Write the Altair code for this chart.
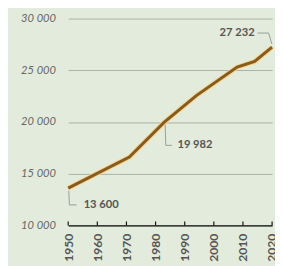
import altair as alt
import pandas as pd

# main series
years = [1950, 1971, 1983, 1994, 2008, 2014, 2020]
values = [13600, 16600, 19982, 22550, 25300, 25850, 27232]

# annotations
label_text = ["13 600", "19 982", "27 232"]
label_x = [1955.3, 1987.5, 2014.0]
label_y = [11980, 17740, 28600]
label_align = ["left", "left", "right"]

leader_id = ["a", "a", "a", "b", "b", "b", "c", "c", "c"]
leader_order = [0, 1, 2, 0, 1, 2, 0, 1, 2]
leader_x = [1950.2, 1950.4, 1952.9, 1983.3, 1983.5, 1985.6, 2015.0, 2018.8, 2019.9]
leader_y = [13350, 11980, 11980, 19750, 17740, 17740, 28600, 28600, 27550]

tick_years = [1950, 1960, 1970, 1980, 1990, 2000, 2010, 2020]
y_ticks = [10000, 15000, 20000, 25000, 30000]

FONT = "Lato"

df = pd.DataFrame({"year": years, "value": values})
lab = pd.DataFrame({"x": label_x, "y": label_y, "t": label_text, "al": label_align})
lead = pd.DataFrame({"id": leader_id, "o": leader_order, "x": leader_x, "y": leader_y})
ticks = pd.DataFrame({"year": tick_years, "y0": [10000] * len(tick_years), "y1": [10380] * len(tick_years)})

xs = alt.Scale(domain=[1950, 2020], nice=False, zero=False)
ys = alt.Scale(domain=[10000, 30000], nice=False, zero=False)

xaxis = alt.Axis(values=tick_years, format="d", labelAngle=270, labelFontWeight="bold",
                 labelColor="#555555", labelFontSize=12.5, labelFont=FONT, ticks=False,
                 labelOverlap=False, labelBound=False, labelFlush=False,
                 domainColor="#111111", domainWidth=1.5, grid=False, title=None, labelPadding=8)
yaxis = alt.Axis(values=y_ticks, labelExpr="replace(format(datum.value, ','), ',', ' ')",
                 labelFontStyle="italic", labelColor="#666666", labelFontSize=11.5, labelFont=FONT,
                 labelOverlap=False, labelFlush=False,
                 domain=False, ticks=False, grid=True, gridColor="#a9b1a5", gridWidth=1,
                 labelPadding=13, title=None)


def X(field):
    return alt.X(field, type="quantitative", scale=xs, axis=xaxis)


def Y(field):
    return alt.Y(field, type="quantitative", scale=ys, axis=yaxis)


tick_layer = alt.Chart(ticks).mark_rule(color="#111111", strokeWidth=1.2).encode(
    x=X("year"), y=Y("y0"), y2="y1:Q",
)

base_line = alt.Chart(df).encode(x=X("year"), y=Y("value"))
halo = base_line.mark_line(color="#f2d48e", strokeWidth=5)
core = base_line.mark_line(color="#8a5a1b", strokeWidth=3)

leaders = alt.Chart(lead).mark_line(color="#9a9a9a", strokeWidth=1).encode(
    x=X("x"), y=Y("y"), detail="id:N", order="o:Q"
)

texts_left = alt.Chart(lab).transform_filter("datum.al == 'left'").mark_text(
    align="left", baseline="middle", fontWeight="bold", fontSize=11.5, color="#555555", font=FONT
).encode(x=X("x"), y=Y("y"), text="t:N")
texts_right = alt.Chart(lab).transform_filter("datum.al == 'right'").mark_text(
    align="right", baseline="middle", fontWeight="bold", fontSize=11.5, color="#555555", font=FONT
).encode(x=X("x"), y=Y("y"), text="t:N")

chart = alt.layer(tick_layer, halo, core, leaders, texts_left, texts_right).properties(
    width=210, height=213,
    background="#e3ebdc",
    autosize=alt.AutoSizeParams(type="none"),
    padding={"left": 62, "top": 7, "right": 3, "bottom": 40},
).configure_view(stroke=None).configure_axis(labelOverlap=False)

chart.save("out.html", embed_options={"renderer": "svg", "actions": False})
